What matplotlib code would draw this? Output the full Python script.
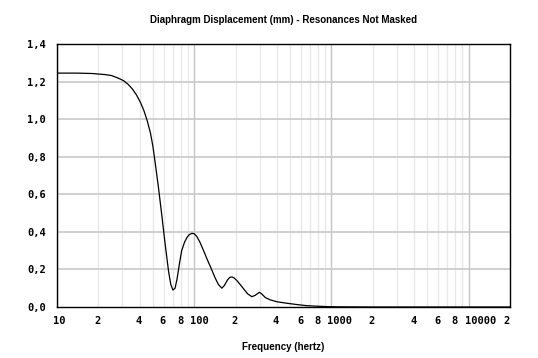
import numpy as np
import matplotlib
matplotlib.use("Agg")
import matplotlib.pyplot as plt
from matplotlib.ticker import FixedLocator, NullFormatter
import matplotlib.transforms as mtransforms

# frequency (Hz) and diaphragm displacement (mm)
freq = [10, 14, 18, 22.5, 25, 28, 30.5, 33, 35.5, 38, 40.5, 43, 45.5, 48, 50, 52,
        55, 58, 61.5, 65, 67.5, 70, 72.5, 75, 78, 81, 85, 88.5, 92, 96, 100,
        104.5, 110, 117, 124, 132, 142, 150, 159, 166, 175, 182, 188, 195,
        205, 216, 230, 245, 263, 278, 290, 299, 310, 330, 358, 400, 473,
        560, 662, 800, 925, 1100, 2000, 5000, 10000, 20000]
disp = [1.245, 1.245, 1.243, 1.237, 1.232, 1.218, 1.205, 1.185, 1.16, 1.128, 1.09,
        1.045, 0.99, 0.925, 0.855, 0.765, 0.63, 0.49, 0.33, 0.19, 0.12, 0.09, 0.10,
        0.15, 0.23, 0.30, 0.345, 0.37, 0.385, 0.392, 0.39, 0.375, 0.345, 0.30,
        0.255, 0.21, 0.155, 0.12, 0.10, 0.115, 0.145, 0.158, 0.16, 0.155,
        0.14, 0.12, 0.095, 0.07, 0.055, 0.062, 0.072, 0.078, 0.07, 0.05,
        0.038, 0.028, 0.02, 0.013, 0.007, 0.004, 0.002, 0.001, 0.0, 0.0, 0.0, 0.0]

y_ticks = [0.0, 0.2, 0.4, 0.6, 0.8, 1.0, 1.2, 1.4]
x_major = [10, 100, 1000, 10000]
x_label_pos = [10, 20, 40, 60, 80, 100, 200, 400, 600, 800,
               1000, 2000, 4000, 6000, 8000, 10000, 20000]
x_label_txt = ["10", "2", "4", "6", "8", "100", "2", "4", "6", "8",
               "1000", "2", "4", "6", "8", "10000", "2"]

fig = plt.figure(figsize=(5.38, 3.58), dpi=100)
ax = fig.add_axes([57 / 538, 1 - 307 / 358, 453 / 538, 263 / 358])

minor = [m * 10 ** e for e in range(1, 5) for m in range(2, 10) if m * 10 ** e < 20000]
for f in minor:
    ax.axvline(f, color="#e8e8e8", lw=1, zorder=0)
for f in x_major:
    ax.axvline(f, color="#c4c4c4", lw=1, zorder=1)
for v in y_ticks[1:-1]:
    ax.axhline(v, color="#c8c8c8", lw=1.2, zorder=1)

ax.plot(freq, disp, color="black", lw=0.9, zorder=3)

ax.set_xscale("log")
ax.set_xlim(10, 20000)
ax.set_ylim(0, 1.4)
ax.xaxis.set_major_locator(FixedLocator([]))
ax.xaxis.set_minor_locator(FixedLocator([]))
ax.xaxis.set_minor_formatter(NullFormatter())
ax.set_yticks(y_ticks)
ax.set_yticklabels([f"{v:.1f}".replace(".", ",") for v in y_ticks],
                   family="DejaVu Sans Mono", fontweight="bold", fontsize=7.5)
ax.tick_params(axis="y", length=0, pad=8)
ax.tick_params(axis="x", length=0)

for s in ax.spines.values():
    s.set_linewidth(1.0)
    s.set_color("black")

shift = mtransforms.ScaledTranslation(-4 / 100, 0, fig.dpi_scale_trans)
for f, t in zip(x_label_pos, x_label_txt):
    ha = "left"
    tr = ax.get_xaxis_transform() + shift
    if f == 20000:
        ha = "right"
        tr = ax.get_xaxis_transform()
    ax.text(f, -0.055, t, transform=tr, ha=ha, va="center",
            family="DejaVu Sans Mono", fontweight="bold", fontsize=7.5)

fig.text(0.5 * (57 + 510) / 538, 1 - 20 / 358,
         "Diaphragm Displacement (mm) - Resonances Not Masked",
         ha="center", va="center", family="Liberation Sans", fontweight="bold", fontsize=7)
fig.text(0.5 * (57 + 510) / 538, 1 - 347 / 358, "Frequency (hertz)",
         ha="center", va="center", family="Liberation Sans", fontweight="bold", fontsize=7)

fig.savefig("out.png", dpi=100)
